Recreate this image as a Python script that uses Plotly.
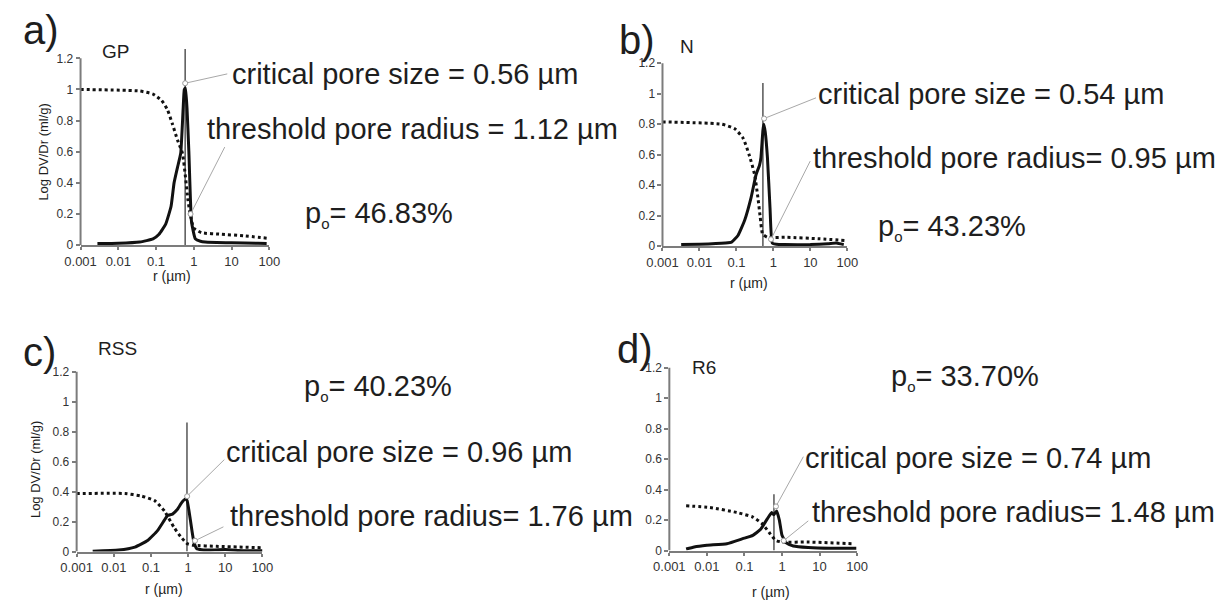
import plotly.graph_objects as go

# ---------------- data ----------------
panel_letters = ["a)", "b)", "c)", "d)"]
sample_names = ["GP", "N", "RSS", "R6"]

# pore-size distribution (solid) r in µm, Log DV/Dr in ml/g
gp_r = [0.0028, 0.01, 0.037, 0.083, 0.12, 0.18, 0.25, 0.30, 0.37, 0.45, 0.52, 0.56, 0.60, 0.66, 0.74, 0.87, 1.1, 1.5, 2, 10, 50, 85]
gp_v = [0.01, 0.012, 0.02, 0.04, 0.07, 0.135, 0.25, 0.40, 0.50, 0.59, 0.87, 1.0, 1.01, 0.88, 0.6, 0.15, 0.04, 0.025, 0.02, 0.015, 0.012, 0.01]
gp_cum_r = [0.001, 0.037, 0.083, 0.14, 0.2, 0.27, 0.37, 0.5, 0.6, 0.7, 0.8, 1.0, 1.6, 5.3, 21, 85]
gp_cum_v = [1.0, 0.99, 0.97, 0.93, 0.87, 0.78, 0.675, 0.59, 0.44, 0.29, 0.2, 0.11, 0.08, 0.07, 0.06, 0.045]

n_r = [0.0032, 0.01, 0.05, 0.074, 0.11, 0.167, 0.25, 0.34, 0.42, 0.46, 0.52, 0.55, 0.6, 0.69, 0.81, 0.93, 1.2, 2, 10, 30, 50, 80]
n_v = [0.01, 0.012, 0.02, 0.026, 0.07, 0.17, 0.32, 0.47, 0.53, 0.58, 0.76, 0.8, 0.75, 0.58, 0.25, 0.02, 0.012, 0.01, 0.01, 0.015, 0.02, 0.01]
n_cum_r = [0.001, 0.04, 0.09, 0.15, 0.22, 0.31, 0.38, 0.44, 0.51, 0.69, 2.3, 18, 90]
n_cum_v = [0.815, 0.80, 0.77, 0.71, 0.6, 0.47, 0.32, 0.19, 0.08, 0.058, 0.058, 0.048, 0.037]

rss_r = [0.0027, 0.0135, 0.037, 0.083, 0.15, 0.23, 0.28, 0.38, 0.51, 0.69, 0.85, 0.94, 1.15, 1.4, 1.7, 2.3, 3.2, 10, 30, 100]
rss_v = [0.003, 0.01, 0.03, 0.075, 0.14, 0.21, 0.24, 0.25, 0.28, 0.33, 0.35, 0.34, 0.21, 0.075, 0.02, 0.012, 0.01, 0.013, 0.006, 0.005]
rss_cum_r = [0.001, 0.02, 0.056, 0.125, 0.23, 0.42, 0.63, 0.94, 1.4, 5.8, 95]
rss_cum_v = [0.387, 0.387, 0.37, 0.34, 0.27, 0.16, 0.1, 0.053, 0.042, 0.035, 0.026]

r6_r = [0.0028, 0.0046, 0.01, 0.034, 0.09, 0.167, 0.27, 0.41, 0.53, 0.6, 0.72, 0.85, 1.0, 1.3, 2, 5, 20, 95]
r6_v = [0.01, 0.024, 0.035, 0.045, 0.078, 0.1, 0.14, 0.21, 0.25, 0.235, 0.26, 0.2, 0.1, 0.05, 0.03, 0.02, 0.015, 0.015]
r6_cum_r = [0.0028, 0.012, 0.062, 0.167, 0.3, 0.45, 0.68, 1.0, 5, 81]
r6_cum_v = [0.294, 0.283, 0.25, 0.22, 0.175, 0.12, 0.067, 0.056, 0.056, 0.045]

# vertical marker line (x position, top value)
vline_x = [0.59, 0.52, 0.93, 0.61]
vline_top = [1.26, 1.07, 0.86, 0.37]

# leader lines: start point on curve, end point near label
crit_lead_x = [[0.59, 7.7], [0.56, 14.2], [0.94, 9.4], [0.69, 3.7]]
crit_lead_y = [[1.04, 1.10], [0.837, 0.973], [0.369, 0.613], [0.29, 0.616]]
thr_lead_x = [[0.82, 6.6], [0.86, 9.9], [1.53, 8.9], [1.11, 5.0]]
thr_lead_y = [[0.2, 0.63], [0.045, 0.558], [0.0725, 0.165], [0.065, 0.195]]

crit_text = ["critical pore size = 0.56 µm", "critical pore size = 0.54 µm",
             "critical pore size = 0.96 µm", "critical pore size = 0.74 µm"]
thr_text = ["threshold pore radius = 1.12 µm", "threshold pore radius= 0.95 µm",
            "threshold pore radius= 1.76 µm", "threshold pore radius= 1.48 µm"]
po_values = ["46.83%", "43.23%", "40.23%", "33.70%"]

x_tick_vals = [0.001, 0.01, 0.1, 1, 10, 100]
x_tick_text = ["0.001", "0.01", "0.1", "1", "10", "100"]
y_tick_vals = [0, 0.2, 0.4, 0.6, 0.8, 1.0, 1.2]
y_tick_text = ["0", "0.2", "0.4", "0.6", "0.8", "1", "1.2"]

solid = [(gp_r, gp_v), (n_r, n_v), (rss_r, rss_v), (r6_r, r6_v)]
dotted = [(gp_cum_r, gp_cum_v), (n_cum_r, n_cum_v), (rss_cum_r, rss_cum_v), (r6_cum_r, r6_cum_v)]

# ---------------- layout geometry (pixels) ----------------
W, H = 1230, 608
# plot area: left, right, bottom(y=0) px, px per unit y
areas = [(66, 259, 248, 157.5), (661, 850, 249, 154.2), (62, 252, 558, 151.7), (668, 860, 557, 154.2)]
YMAX = 1.27

FONT = "Liberation Sans, Arial, sans-serif"
TXT = "#1e1e1e"
AX = "#7c7c7c"

fig = go.Figure()
layout = dict(width=W, height=H, margin=dict(l=0, r=0, t=0, b=0),
              paper_bgcolor="white", plot_bgcolor="white", showlegend=False,
              font=dict(family=FONT, color=TXT))
annotations = []
shapes = []


def px(xp):
    return xp / W


def py(yp):
    return 1 - yp / H


for i in range(4):
    sfx = "" if i == 0 else str(i + 1)
    xa, ya = "x" + sfx, "y" + sfx
    l, r, b, u = areas[i]
    top = b - YMAX * u
    layout["xaxis" + sfx] = dict(domain=[px(l), px(r)], anchor=ya, type="log", range=[-3, 2],
                                 tickvals=x_tick_vals, ticktext=x_tick_text, ticks="outside",
                                 ticklen=3, tickwidth=1.5, tickcolor=AX, showline=True, linecolor=AX,
                                 linewidth=2, showgrid=False, zeroline=False,
                                 tickfont=dict(size=13, color="#333"))
    layout["yaxis" + sfx] = dict(domain=[py(b), py(top)], anchor=xa, range=[0, YMAX],
                                 tickvals=y_tick_vals, ticktext=y_tick_text, ticks="outside",
                                 ticklen=4, tickwidth=1.5, tickcolor=AX, showline=False,
                                 showgrid=False, zeroline=False, tickfont=dict(size=12, color="#333"))
    shapes.append(dict(type="line", xref=xa + " domain", yref=ya, x0=0, x1=0, y0=0, y1=1.2,
                       line=dict(color=AX, width=2)))

    # vertical line
    fig.add_trace(go.Scatter(x=[vline_x[i], vline_x[i]], y=[0, vline_top[i]], mode="lines",
                             line=dict(color="#555", width=1.5), xaxis=xa, yaxis=ya))
    # cumulative dotted
    fig.add_trace(go.Scatter(x=dotted[i][0], y=dotted[i][1], mode="lines",
                             line=dict(color="#111", width=3, dash="dot", shape="spline", smoothing=0.5),
                             xaxis=xa, yaxis=ya))
    # distribution solid
    fig.add_trace(go.Scatter(x=solid[i][0], y=solid[i][1], mode="lines",
                             line=dict(color="#111", width=3, shape="spline", smoothing=0.4),
                             xaxis=xa, yaxis=ya))
    # leader lines
    for lx, ly in ((crit_lead_x[i], crit_lead_y[i]), (thr_lead_x[i], thr_lead_y[i])):
        fig.add_trace(go.Scatter(x=lx, y=ly, mode="lines", line=dict(color="#a8a8a8", width=1),
                                 xaxis=xa, yaxis=ya))
        fig.add_trace(go.Scatter(x=[lx[0]], y=[ly[0]], mode="markers",
                                 marker=dict(symbol="circle", size=5, color="white",
                                             line=dict(color="#9a9a9a", width=1)),
                                 xaxis=xa, yaxis=ya, cliponaxis=False))

# text positions (pixels)
letter_pos = [(5, 30), (614, 40), (5, 356), (612, 353)]
name_pos = [(86, 52), (677, 47), (82, 353), (689, 372)]
crit_pos = [(219, 75), (818, 95), (213, 457), (805, 463)]
thr_pos = [(193, 130), (813, 160), (217, 522), (812, 518)]
po_pos = [(293, 217), (879, 230), (292, 392), (893, 382)]
xtitle_pos = [(160, 279), (749, 286), (151, 596), (772, 599)]
ytitle_pos = [(28, 153), (20, 475)]


def txt(t, p, size, anchor="left"):
    annotations.append(dict(text=t, x=px(p[0]), y=py(p[1]), xref="paper", yref="paper",
                            xanchor=anchor, yanchor="middle", showarrow=False,
                            font=dict(size=size, color=TXT, family=FONT)))


for i in range(4):
    txt(panel_letters[i], letter_pos[i], 40)
    txt(sample_names[i], name_pos[i], 19)
    txt(crit_text[i], crit_pos[i], 29)
    txt(thr_text[i], thr_pos[i], 29)
    txt("p<sub><span style='font-size:15px'>o</span></sub>= " + po_values[i], po_pos[i], 29)
    txt("r (µm)", xtitle_pos[i], 14, anchor="center")
for p in ytitle_pos:
    annotations.append(dict(text="Log DV/Dr (ml/g)", x=px(p[0]), y=py(p[1]), xref="paper", yref="paper",
                            xanchor="center", yanchor="middle", showarrow=False, textangle=-90,
                            font=dict(size=13, color=TXT, family=FONT)))

layout["annotations"] = annotations
layout["shapes"] = shapes
fig.update_layout(**layout)
fig.write_html("out.html")
